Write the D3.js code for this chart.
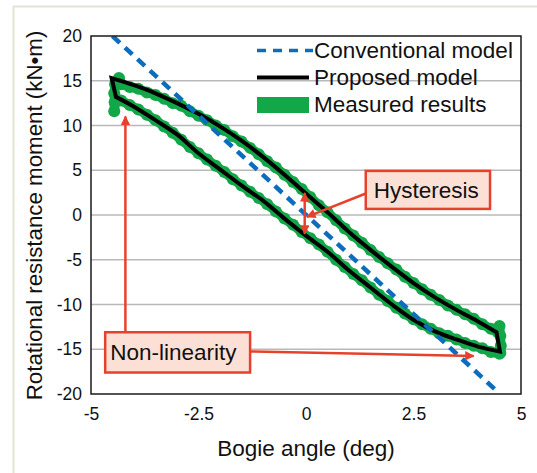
<!DOCTYPE html>
<html>
<head>
<meta charset="utf-8">
<script src="https://cdn.jsdelivr.net/npm/d3@7"></script>
<style>
  html, body { margin: 0; padding: 0; background: #fff; }
  svg { display: block; }
  text { font-family: "Liberation Sans", Arial, Helvetica, sans-serif; fill: #111; }
</style>
</head>
<body>
<svg id="chart" width="537" height="473"></svg>
<script>
// Axis ticks
const xTicks = [-5, -2.5, 0, 2.5, 5];
const yTicks = [-20, -15, -10, -5, 0, 5, 10, 15, 20];
const gridValues = [-15, -10, -5, 0, 5, 10, 15];

// Conventional (linear) model: two end points of the straight line
const conventionalX = [-4.5, 4.4];
const conventionalY = [20, -19.5];

// Proposed model, upper branch (loading) and lower branch (unloading)
const proposedUpperX = [-4.52, -4.0, -3.5, -3.0, -2.5, -2.0, -1.5, -1.0, -0.5, 0.0, 0.5, 1.0, 1.5, 2.0, 2.5, 3.0, 3.5, 4.0, 4.43];
const proposedUpperY = [15.3, 14.5, 13.6, 12.5, 11.3, 9.9, 8.3, 6.5, 4.5, 2.4, 0.3, -1.9, -3.9, -5.8, -7.6, -9.2, -10.6, -11.9, -13.1];
const proposedLowerX = [4.51, 4.0, 3.5, 3.0, 2.5, 2.0, 1.5, 1.0, 0.5, 0.0, -0.5, -1.0, -1.5, -2.0, -2.5, -3.0, -3.5, -4.0, -4.42];
const proposedLowerY = [-15.25, -14.7, -13.9, -13.0, -11.7, -10.0, -8.1, -6.2, -4.1, -2.3, -0.4, 1.6, 3.3, 5.1, 6.9, 9.0, 10.6, 12.1, 13.2];

// Measured results: upper branch, right-end spike, lower branch, left-end spike
const measuredX = [-4.35, -4.3, -4.1, -3.9, -3.7, -3.5, -3.3, -3.1, -2.9, -2.7, -2.5, -2.3, -2.1, -1.9, -1.7, -1.5, -1.3, -1.1,
                   -0.9, -0.7, -0.5, -0.3, -0.1, 0.1, 0.3, 0.5, 0.7, 0.9, 1.1, 1.3, 1.5, 1.7, 1.9, 2.1, 2.3, 2.5, 2.7, 2.9,
                   3.1, 3.3, 3.5, 3.7, 3.9, 4.1, 4.3, 4.46, 4.5, 4.52, 4.53, 4.52,
                   4.5, 4.3, 4.1, 3.9, 3.7, 3.5, 3.3, 3.1, 2.9, 2.7, 2.5, 2.3, 2.1, 1.9, 1.7, 1.5, 1.3, 1.1, 0.9, 0.7,
                   0.5, 0.3, 0.1, -0.1, -0.3, -0.5, -0.7, -0.9, -1.1, -1.3, -1.5, -1.7, -1.9, -2.1, -2.3, -2.5, -2.7,
                   -2.9, -3.1, -3.3, -3.5, -3.7, -3.9, -4.1, -4.3, -4.42, -4.46, -4.45, -4.46, -4.44, -4.35];
const measuredY = [15.2, 14.6, 14.3, 14.1, 13.7, 13.4, 13.0, 12.5, 12.2, 11.6, 11.1, 10.6, 10.0, 9.5, 8.8, 8.2, 7.5, 6.8,
                   6.0, 5.3, 4.5, 3.7, 2.9, 2.0, 1.1, 0.3, -0.6, -1.5, -2.3, -3.1, -3.9, -4.7, -5.4, -6.1, -6.9, -7.6, -8.3, -8.9,
                   -9.5, -10.1, -10.6, -11.1, -11.6, -12.2, -12.7, -13.1, -12.4, -13.5, -14.6, -15.4,
                   -15.5, -15.3, -14.9, -14.6, -14.3, -13.9, -13.5, -13.2, -12.7, -12.2, -11.65, -11.0, -10.35, -9.6, -8.9, -8.1,
                   -7.3, -6.6, -5.8, -5.0, -4.1, -3.3, -2.6, -1.9, -1.1, -0.4, 0.4, 1.2, 1.9, 2.6, 3.3, 4.0, 4.8, 5.5, 6.2,
                   6.9, 7.6, 8.4, 9.2, 9.9, 10.6, 11.2, 11.8, 12.3, 12.8, 13.0, 11.6, 12.6, 13.6, 14.6, 15.3];

const svg = d3.select("#chart");
const plot = { left: 91, right: 521, top: 36, bottom: 394 };

const x = d3.scaleLinear().domain([-5, 5]).range([plot.left, plot.right]);
const y = d3.scaleLinear().domain([-20, 20]).range([plot.bottom, plot.top]);

const BLUE = "#0c6dbd", GREEN = "#12a849", RED = "#e8412b", BOXFILL = "#fce0d5";

// light outer frame
svg.append("rect")
  .attr("x", 13.5).attr("y", 6.5).attr("width", 620).attr("height", 620)
  .attr("fill", "#fff").attr("stroke", "#e4e4d6").attr("stroke-width", 2);

// horizontal gridlines
svg.append("g").selectAll("line").data(gridValues).join("line")
  .attr("x1", plot.left).attr("x2", plot.right)
  .attr("y1", d => y(d)).attr("y2", d => y(d))
  .attr("stroke", "#b9b9b9").attr("stroke-width", 1.6);

// clip to plot area
svg.append("clipPath").attr("id", "plotclip").append("rect")
  .attr("x", plot.left).attr("y", plot.top)
  .attr("width", plot.right - plot.left).attr("height", plot.bottom - plot.top);

const line = d3.line().x(d => x(d[0])).y(d => y(d[1]));
const smooth = d3.line().x(d => x(d[0])).y(d => y(d[1])).curve(d3.curveCatmullRom.alpha(0.5));
const marks = svg.append("g").attr("clip-path", "url(#plotclip)");

// measured results: thick green band with dotted edges
const measured = measuredX.map((v, i) => [v, measuredY[i]]);
marks.append("path").datum(measured)
  .attr("d", line).attr("fill", "none")
  .attr("stroke", GREEN).attr("stroke-width", 9.5)
  .attr("stroke-linejoin", "round").attr("stroke-linecap", "round");
marks.append("g").selectAll("circle").data(measured).join("circle")
  .attr("cx", d => x(d[0])).attr("cy", d => y(d[1])).attr("r", 6)
  .attr("fill", GREEN);

// proposed model loop: smooth branches joined by sharp corners at the turning points
const upper = proposedUpperX.map((v, i) => [v, proposedUpperY[i]]);
const lower = proposedLowerX.map((v, i) => [v, proposedLowerY[i]]);
const loopPath = smooth(upper) + "L" + smooth(lower).slice(1) + "Z";
marks.append("path")
  .attr("d", loopPath).attr("fill", "none")
  .attr("stroke", "#000").attr("stroke-width", 4)
  .attr("stroke-linejoin", "miter").attr("stroke-miterlimit", 10);

// conventional model
const conventional = conventionalX.map((v, i) => [v, conventionalY[i]]);
marks.append("path").datum(conventional)
  .attr("d", line).attr("fill", "none")
  .attr("stroke", BLUE).attr("stroke-width", 4.5)
  .attr("stroke-dasharray", "10,7");

// plot frame
svg.append("rect")
  .attr("x", plot.left).attr("y", plot.top)
  .attr("width", plot.right - plot.left).attr("height", plot.bottom - plot.top)
  .attr("fill", "none").attr("stroke", "#1a1a1a").attr("stroke-width", 1.5);

// axes
const yAxis = svg.append("g").attr("transform", `translate(${plot.left},0)`)
  .call(d3.axisLeft(y).tickValues(yTicks).tickSize(0).tickPadding(9).tickFormat(d => String(d)));
yAxis.select(".domain").remove();
yAxis.selectAll("text").attr("font-size", 17.5).attr("fill", "#111")
  .attr("font-family", "Liberation Sans, Arial, sans-serif");

const xAxis = svg.append("g").attr("transform", `translate(0,${plot.bottom})`)
  .call(d3.axisBottom(x).tickValues(xTicks).tickSize(0).tickPadding(14).tickFormat(d => String(d)));
xAxis.select(".domain").remove();
xAxis.selectAll("text").attr("font-size", 17.5).attr("fill", "#111")
  .attr("font-family", "Liberation Sans, Arial, sans-serif");

// axis titles
svg.append("text").attr("x", (plot.left + plot.right) / 2).attr("y", 456)
  .attr("text-anchor", "middle").attr("font-size", 22.5).text("Bogie angle (deg)");
svg.append("text").attr("transform", "translate(42,215.5) rotate(-90)")
  .attr("text-anchor", "middle").attr("font-size", 22.3).text("Rotational resistance moment (kN•m)");

// legend
const lg = svg.append("g");
const lx0 = 257, lx1 = 309, ltx = 314;
lg.append("line").attr("x1", lx0).attr("x2", lx1 + 4).attr("y1", 50.5).attr("y2", 50.5)
  .attr("stroke", BLUE).attr("stroke-width", 3.5).attr("stroke-dasharray", "9,7");
lg.append("text").attr("x", ltx).attr("y", 58).attr("font-size", 22.5).text("Conventional model");
lg.append("line").attr("x1", lx0).attr("x2", lx1).attr("y1", 77.5).attr("y2", 77.5)
  .attr("stroke", "#000").attr("stroke-width", 4);
lg.append("text").attr("x", ltx).attr("y", 85).attr("font-size", 22.5).text("Proposed model");
lg.append("rect").attr("x", lx0).attr("y", 97).attr("width", lx1 - lx0).attr("height", 16)
  .attr("fill", GREEN);
lg.append("text").attr("x", ltx).attr("y", 112).attr("font-size", 22.5).text("Measured results");

// annotations
const defs = svg.append("defs");
defs.append("marker").attr("id", "arrowhead")
  .attr("viewBox", "0 0 10 10").attr("refX", 9).attr("refY", 5)
  .attr("markerWidth", 4.2).attr("markerHeight", 3.8).attr("markerUnits", "strokeWidth")
  .attr("orient", "auto-start-reverse")
  .append("path").attr("d", "M0,0 L10,5 L0,10 Z").attr("fill", RED);

const ann = svg.append("g");
function arrow(x1, y1, x2, y2, both) {
  const l = ann.append("line")
    .attr("x1", x(x1)).attr("y1", y(y1)).attr("x2", x(x2)).attr("y2", y(y2))
    .attr("stroke", RED).attr("stroke-width", 2.5)
    .attr("marker-end", "url(#arrowhead)");
  if (both) l.attr("marker-start", "url(#arrowhead)");
}

// hysteresis: double arrow between branches and pointer from label
arrow(-0.03, 2.45, -0.03, -2.1, true);
arrow(1.39, 2.4, 0.02, -0.2, false);
ann.append("rect")
  .attr("x", x(1.39)).attr("y", y(4.93))
  .attr("width", x(4.28) - x(1.39)).attr("height", y(0.68) - y(4.93))
  .attr("fill", BOXFILL).attr("stroke", RED).attr("stroke-width", 2.5);
ann.append("text").attr("x", x(1.39) + 8).attr("y", y(2.81) + 8)
  .attr("font-size", 22.5).text("Hysteresis");

// non-linearity: arrows to both ends of the loop
arrow(-4.2, -13.1, -4.2, 11.0, false);
arrow(-1.3, -15.25, 3.9, -15.75, false);
ann.append("rect")
  .attr("x", x(-4.67)).attr("y", y(-13.1))
  .attr("width", x(-1.3) - x(-4.67)).attr("height", y(-17.6) - y(-13.1))
  .attr("fill", BOXFILL).attr("stroke", RED).attr("stroke-width", 2.5);
ann.append("text").attr("x", x(-4.67) + 5).attr("y", y(-15.35) + 8)
  .attr("font-size", 22.5).text("Non-linearity");
</script>
</body>
</html>
